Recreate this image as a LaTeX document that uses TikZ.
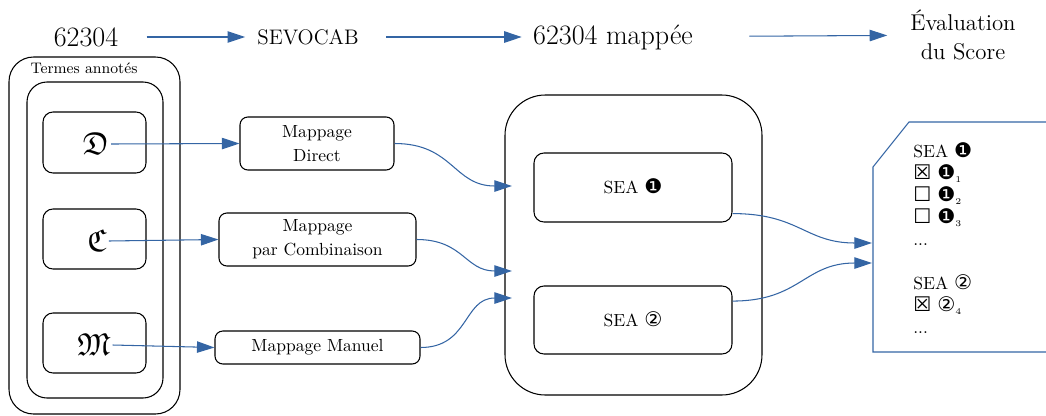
\documentclass[tikz,border=0pt]{standalone}
\usepackage{amsmath,amssymb,bm}
\usepackage{fontspec}
\newfontfamily\symfont{DejaVu Sans}
\usetikzlibrary{arrows.meta}
\definecolor{arr}{RGB}{52,101,164}
\newcommand{\dg}[1]{\smash{{\symfont\scalebox{1.15}{#1}}}}
\newcommand{\bxs}[1]{\smash{{\symfont\scalebox{1.15}{#1}}}}
\begin{document}
\begin{tikzpicture}[x=0.57pt,y=-0.57pt,
  flow/.style={draw=arr, line width=0.6pt, -{Triangle[length=10pt,width=6.5pt]}},
  bx/.style={draw, line width=0.6pt, inner sep=0pt},
  toptext/.style={inner sep=0pt, font=\fontsize{16}{18}\selectfont},
  letter/.style={inner sep=1pt, font=\fontsize{18}{20}\selectfont},
  mapbox/.style={bx, rounded corners=4.5pt, align=center, font=\fontsize{10}{13.5}\selectfont},
  scurve/.style={out=0, in=180, looseness=1.2}
]
\useasboundingbox (0,0) rectangle (1046,415);

% top row
\node[toptext] (n1) at (86,37) {62304};
\node[inner sep=0pt, font=\fontsize{12}{14}\selectfont] (n2) at (308,37) {SEVOCAB};
\node[toptext] (n3) at (613,37) {62304 mappée};
\node[inner sep=0pt, align=center, font=\fontsize{13}{16.5}\selectfont] (n4) at (963,35) {Évaluation\\du Score};
\draw[flow, shorten <=16pt, shorten >=6.8pt] (n1) -- (n2);
\draw[flow, shorten <=15.4pt, shorten >=6.3pt] (n2) -- (n3);
\draw[flow, shorten <=32pt, shorten >=13pt] (n3) -- (n4);

% left column
\node[bx, rounded corners=14pt, minimum width={171*0.57pt}, minimum height={357*0.57pt}] (outer) at (94.5,235.5) {};
\node[inner sep=0pt, font=\fontsize{8.7}{10}\selectfont] (termes) at (84,68) {Termes annotés};
\node[bx, rounded corners=11.4pt, minimum width={136*0.57pt}, minimum height={316*0.57pt}] (inner) at (95,240) {};
\node[bx, rounded corners=5.7pt, minimum width={103*0.57pt}, minimum height={61*0.57pt}] (dbox) at (94.5,142.5) {};
\node[bx, rounded corners=5.7pt, minimum width={103*0.57pt}, minimum height={60*0.57pt}] (cbox) at (94.5,239) {};
\node[bx, rounded corners=5.7pt, minimum width={103*0.57pt}, minimum height={60*0.57pt}] (mbox) at (94.5,343) {};
\node[letter] (dl) at (96,144) {$\mathfrak{D}$};
\node[letter] (cl) at (97,241) {$\mathfrak{C}$};
\node[letter] (ml) at (94,345) {$\mathfrak{M}$};

% mapping boxes
\node[mapbox, minimum width={154*0.57pt}, minimum height={53*0.57pt}] (md) at (317,143.5) {Mappage\\Direct};
\node[mapbox, minimum width={197*0.57pt}, minimum height={53*0.57pt}] (mc) at (317.5,239.5) {Mappage\\par Combinaison};
\node[mapbox, minimum width={205*0.57pt}, minimum height={33*0.57pt}] (mm) at (317.5,347.5) {Mappage Manuel};

\draw[flow] (dl.east) -- (md.west);
\draw[flow] (cl.east) -- (mc.west);
\draw[flow] (ml.east) -- (mm.west);

% SEA container
\node[bx, rounded corners=23pt, minimum width={257*0.57pt}, minimum height={300*0.57pt}] (cont) at (633.5,245) {};
\node[bx, rounded corners=5.7pt, minimum width={198*0.57pt}, minimum height={69*0.57pt}, font=\fontsize{10}{12}\selectfont] (sea1) at (633,187.5) {SEA \dg{❶}};
\node[bx, rounded corners=5.7pt, minimum width={198*0.57pt}, minimum height={68*0.57pt}, font=\fontsize{10}{12}\selectfont] (sea2) at (633,320) {SEA \dg{②}};

\coordinate (in1) at (512,186);
\coordinate (in2) at (512,271);
\coordinate (in3) at (512,298);
\draw[flow] (md.east) to[scurve] (in1);
\draw[flow] (mc.east) to[scurve] (in2);
\draw[flow] (mm.east) to[scurve] (in3);

% document shape
\draw[arr, line width=0.6pt] (1046,122) -- (909,122) -- (873,167) -- (873,352) -- (1046,352);
\coordinate (out1) at (872,243);
\coordinate (out2) at (872,263);
\draw[flow] ([yshift=5.1pt]sea1.south east) to[scurve] (out1);
\draw[flow] ([yshift=10.8pt]sea2.east) to[scurve] (out2);

\node[anchor=north west, inner sep=0pt, align=left, font=\fontsize{10}{12.54}\selectfont] (res) at (913,145)
{SEA \dg{❶}\\
\bxs{☒} \dg{❶}$_{\scriptscriptstyle 1}$\\
\bxs{☐} \dg{❶}$_{\scriptscriptstyle 2}$\\
\bxs{☐} \dg{❶}$_{\scriptscriptstyle 3}$\\
...\\
\strut\\
SEA \dg{②}\\
\bxs{☒} \dg{②}$_{\scriptscriptstyle 4}$\\
...};
\end{tikzpicture}
\end{document}
